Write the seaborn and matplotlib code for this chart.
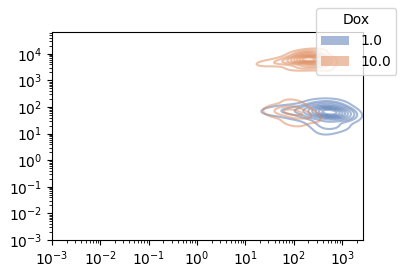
import numpy as np
import pandas as pd
import matplotlib
matplotlib.use("Agg")
import matplotlib.pyplot as plt
import matplotlib.patches as mpatches
import seaborn as sns

# Dox = 1.0 (blue): representative sample points and weights
blue_x = [630, 500, 800, 400, 320, 200, 100, 50, 25, 400, 500, 400, 800, 1000, 630, 300, 250, 100]
blue_y = [63, 70, 56, 63, 70, 70, 75, 70, 65, 25, 16, 10, 20, 40, 125, 130, 40, 40]
blue_w = [10, 6, 5, 4, 3, 2, 1.5, 1, 0.5, 1.5, 1, 0.5, 1, 1.5, 2, 1, 0.8, 0.5]

# Dox = 10.0 (orange): upper cluster
orange_x = [200, 250, 160, 320, 100, 63, 32, 20, 400, 200, 130, 200, 500, 100, 300]
orange_y = [6300, 6300, 6300, 5600, 5600, 5000, 4500, 4000, 4000, 10000, 9000, 3500, 2500, 3000, 12000]
orange_w = [10, 6, 6, 4, 3, 2, 1, 0.5, 2, 3, 1.5, 3, 0.7, 1, 1]

# Dox = 10.0 (orange): lower cluster
orange_low_x = [100, 63, 160, 40, 100, 100, 200]
orange_low_y = [63, 70, 56, 63, 30, 120, 40]
orange_low_w = [1.2, 0.8, 0.6, 0.3, 0.4, 0.4, 0.3]

dox_labels = ["1.0", "10.0"]

df_blue = pd.DataFrame({"x": blue_x, "y": blue_y, "w": blue_w})
df_orange = pd.DataFrame({"x": orange_x, "y": orange_y, "w": orange_w})
df_orange_low = pd.DataFrame({"x": orange_low_x, "y": orange_low_y, "w": orange_low_w})

pal = sns.color_palette("deep")

fig, ax = plt.subplots(figsize=(4.05, 2.7), dpi=100)
fig.subplots_adjust(left=52/405, right=363/405, top=1-32/270, bottom=1-240/270)

sns.kdeplot(data=df_blue, x="x", y="y", weights="w", log_scale=True, color=pal[0],
            alpha=0.5, bw_adjust=1.0, ax=ax)
sns.kdeplot(data=df_orange, x="x", y="y", weights="w", log_scale=True, color=pal[1],
            alpha=0.5, bw_adjust=1.0, ax=ax)
sns.kdeplot(data=df_orange_low, x="x", y="y", weights="w", log_scale=True, color=pal[1],
            alpha=0.5, bw_adjust=1.0, levels=[0.05, 0.4, 0.8], ax=ax)

ax.set_xlim(1e-3, 2.7e3)
ax.set_ylim(1e-3, 6.6e4)
ax.set_xlabel("")
ax.set_ylabel("Y2-A")
ax.yaxis.set_label_coords(-0.155, 0.5)

handles = [mpatches.Patch(facecolor=pal[0], alpha=0.5, linewidth=0),
           mpatches.Patch(facecolor=pal[1], alpha=0.5, linewidth=0)]
ax.legend(handles, dox_labels, title="Dox", loc="upper right",
          bbox_to_anchor=(1.13, 1.15))

fig.savefig("out.png", dpi=100)
